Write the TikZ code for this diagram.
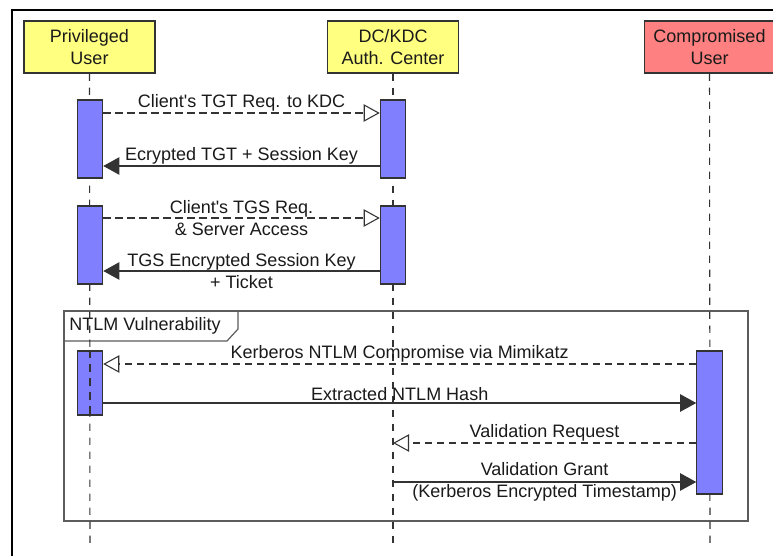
\documentclass[tikz,border=0pt]{standalone}
\usepackage{fontspec}
\setmainfont{Liberation Sans}[Ligatures=TeXOff]
\usetikzlibrary{arrows.meta,calc}
\definecolor{hdryellow}{HTML}{FFFF80}
\definecolor{hdrred}{HTML}{FF8080}
\definecolor{barblue}{HTML}{8080FF}
\definecolor{edge}{HTML}{333333}
\definecolor{txt}{HTML}{1A1A1A}
\begin{document}
\begin{tikzpicture}[x=0.75pt,y=-0.75pt,
  hdr/.style={draw=edge,line width=0.9pt,minimum width=98.25pt,minimum height=39pt,inner sep=0pt,align=center,font=\fontsize{13.5}{16}\selectfont,text=txt},
  actbar/.style={draw=edge,line width=0.9pt,fill=barblue,minimum width=19pt,inner sep=0pt},
  life/.style={draw=edge,line width=0.8pt,dash pattern=on 5.5pt off 5pt},
  lbl/.style={font=\fontsize{13.5}{16.5}\selectfont,text=txt,inner sep=0pt,align=center},
  sync/.style={draw=edge,line width=0.8pt,-{Triangle[length=12pt,width=13pt]}},
  async/.style={draw=edge,line width=0.8pt,dash pattern=on 5.5pt off 3.5pt,-{Triangle[open,length=12pt,width=13pt,fill=white]}}]
\useasboundingbox (0,0) rectangle (773,556);
\fill[white] (0,0) rectangle (773,556);
% outer frame
\draw[black,line width=0.8pt] (12,556) -- (12,10) -- (773,10);
% NTLM frame
\draw[draw=edge!80!white,line width=1.2pt] (64,311) rectangle (748,521);
\draw[draw=edge!80!white,line width=0.9pt] (64,341) -- (227,341) -- (238,329) -- (238,311);
\node[lbl,anchor=west] (tag) at (69,326) {NTLM Vulnerability};
% headers
\node[hdr,fill=hdryellow] (pu) at (89.5,47) {Privileged\\User};
\node[hdr,fill=hdryellow] (dc) at (393,47) {DC/KDC\\Auth. Center};
\node[hdr,fill=hdrred,minimum width=97.5pt] (cu) at (709.5,47) {Compromised\\User};
% lifelines
\coordinate (puend) at (90,548);
\coordinate (dcend) at (393,548);
\coordinate (cuend) at (710,548);
\draw[life] (pu.south) -- (puend);
\draw[life] (dc.south) -- (dcend);
\draw[life] (cu.south) -- (cuend);
% activation bars
\node[actbar,minimum height=58.5pt] (p1) at (90,139) {};
\node[actbar,minimum height=58.5pt] (d1) at (393,139) {};
\node[actbar,minimum height=58.5pt] (p2) at (90,245) {};
\node[actbar,minimum height=58.5pt] (d2) at (393,245) {};
\node[actbar,minimum height=48pt] (p3) at (90,383) {};
\node[actbar,minimum height=107.25pt] (c3) at (709.5,422.5) {};
\draw[life] (p3.north) -- (p3.south);
% messages
\draw[async] (p1.east |- 0,113) -- node[lbl,pos=0.5,above=1pt] {Client's TGT Req. to KDC} (d1.west |- 0,113);
\draw[sync] (d1.west |- 0,166) -- node[lbl,pos=0.5,above=1pt] {Ecrypted TGT + Session Key} (p1.east |- 0,166);
\draw[async] (p2.east |- 0,218) -- node[lbl,pos=0.5] {Client's TGS Req.\\\& Server Access} (d2.west |- 0,218);
\draw[sync] (d2.west |- 0,271) -- node[lbl,pos=0.5] {TGS Encrypted Session Key\\+ Ticket} (p2.east |- 0,271);
\draw[async] (c3.west |- 0,364) -- node[lbl,pos=0.5,above=1pt] {Kerberos NTLM Compromise via Mimikatz} (p3.east |- 0,364);
\draw[sync] (p3.east |- 0,403) -- node[lbl,pos=0.5,above=1pt] {Extracted NTLM Hash} (c3.west |- 0,403);
\draw[async] (c3.west |- 0,443) -- node[lbl,pos=0.5,above=1pt] {Validation Request} (dcend |- 0,443);
\draw[sync] (dcend |- 0,482) -- node[lbl,pos=0.5] {Validation Grant\\(Kerberos Encrypted Timestamp)} (c3.west |- 0,482);
\end{tikzpicture}
\end{document}
